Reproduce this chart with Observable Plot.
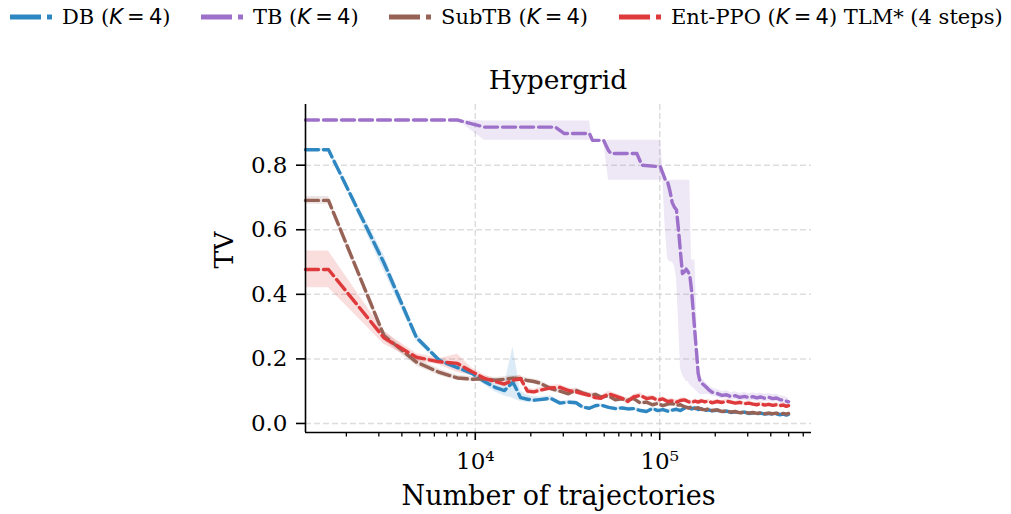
<!DOCTYPE html>
<html><head><meta charset="utf-8">
<script src="https://cdn.jsdelivr.net/npm/d3@7"></script>
<script src="https://cdn.jsdelivr.net/npm/@observablehq/plot@0.6"></script>
<style>
html,body{margin:0;padding:0;background:#fff;overflow:hidden;}
#wrap{position:relative;width:1011px;height:514px;font-family:"DejaVu Serif",serif;color:#000;}
#wrap > svg{position:absolute;left:0;top:0;}
.leg{position:absolute;top:4px;height:26px;display:flex;align-items:center;font-size:21px;white-space:nowrap;}
.leg svg{margin-right:10px;flex:none;}
.m{font-family:"DejaVu Sans",sans-serif;}
.title{position:absolute;left:0;width:1116px;text-align:center;top:65px;font-size:26.5px;line-height:30px;}
</style></head><body><div id="wrap"></div>
<script>
// ---- data ----
const seriesNames = ["DB (K = 4)", "TB (K = 4)", "SubTB (K = 4)", "Ent-PPO (K = 4) TLM* (4 steps)"];
const seriesColors = ["#2f87c2", "#9d70c9", "#976256", "#df3a3b"];

// shared logging steps (number of trajectories) for DB, SubTB, Ent-PPO
const steps = [
  0, 1600, 3200, 4800, 6400, 8000, 9600, 11200, 12800, 14400,
  16000, 17600, 19200, 20800, 22400, 25600, 28800, 32000, 35200, 38400,
  41600, 44800, 48000, 52800, 57600, 62400, 67200, 72000, 78400, 84800,
  91200, 97600, 104000, 110400, 116800, 123200, 129600, 136000, 142400, 148800,
  155200, 161600, 168000, 176000, 184000, 192000, 204800, 217600, 230400, 243200,
  256000, 272000, 288000, 304000, 320000, 336000, 352000, 371200, 390400, 409600,
  428800, 448000, 467200, 486400, 499200
];
const dbTV = [
  0.848, 0.848, 0.497, 0.266, 0.195, 0.173, 0.155, 0.130, 0.112, 0.102,
  0.128, 0.080, 0.075, 0.072, 0.074, 0.078, 0.063, 0.066, 0.064, 0.050,
  0.047, 0.055, 0.057, 0.050, 0.046, 0.048, 0.045, 0.046, 0.040, 0.037,
  0.046, 0.040, 0.043, 0.038, 0.041, 0.044, 0.040, 0.047, 0.050, 0.045,
  0.048, 0.043, 0.046, 0.040, 0.042, 0.039, 0.041, 0.036, 0.038, 0.034,
  0.036, 0.033, 0.035, 0.031, 0.033, 0.030, 0.032, 0.029, 0.031, 0.028,
  0.030, 0.027, 0.029, 0.026, 0.028
];
const dbLo = [
  0.844, 0.844, 0.472, 0.254, 0.187, 0.165, 0.147, 0.120, 0.098, 0.085,
  0.078, 0.068, 0.065, 0.064, 0.067, 0.070, 0.057, 0.060, 0.058, 0.044,
  0.042, 0.050, 0.052, 0.045, 0.041, 0.043, 0.040, 0.041, 0.035, 0.032,
  0.041, 0.035, 0.038, 0.033, 0.036, 0.039, 0.035, 0.042, 0.045, 0.040,
  0.044, 0.039, 0.042, 0.036, 0.038, 0.035, 0.037, 0.032, 0.034, 0.030,
  0.032, 0.029, 0.031, 0.027, 0.029, 0.026, 0.028, 0.025, 0.027, 0.024,
  0.026, 0.023, 0.025, 0.022, 0.024
];
const dbHi = [
  0.852, 0.852, 0.522, 0.278, 0.203, 0.181, 0.163, 0.140, 0.124, 0.120,
  0.237, 0.100, 0.087, 0.082, 0.082, 0.086, 0.069, 0.072, 0.070, 0.056,
  0.052, 0.060, 0.062, 0.055, 0.051, 0.053, 0.050, 0.051, 0.045, 0.042,
  0.051, 0.045, 0.048, 0.043, 0.046, 0.049, 0.045, 0.052, 0.055, 0.050,
  0.052, 0.047, 0.050, 0.044, 0.046, 0.043, 0.045, 0.040, 0.042, 0.038,
  0.040, 0.037, 0.039, 0.035, 0.037, 0.034, 0.036, 0.033, 0.035, 0.032,
  0.034, 0.031, 0.033, 0.030, 0.032
];
const sbTV = [
  0.691, 0.691, 0.272, 0.190, 0.158, 0.141, 0.137, 0.138, 0.134, 0.137,
  0.140, 0.139, 0.133, 0.130, 0.125, 0.108, 0.100, 0.092, 0.103, 0.094,
  0.088, 0.090, 0.082, 0.085, 0.073, 0.076, 0.072, 0.078, 0.063, 0.066,
  0.058, 0.062, 0.055, 0.060, 0.062, 0.056, 0.058, 0.052, 0.048, 0.050,
  0.046, 0.049, 0.044, 0.042, 0.045, 0.040, 0.042, 0.037, 0.039, 0.035,
  0.037, 0.033, 0.035, 0.032, 0.034, 0.031, 0.033, 0.030, 0.032, 0.030,
  0.032, 0.029, 0.031, 0.029, 0.031
];
const sbSpread = [
  0.012, 0.012, 0.015, 0.012, 0.010, 0.008, 0.008, 0.008, 0.008, 0.008,
  0.008, 0.008, 0.008, 0.008, 0.008, 0.008, 0.007, 0.007, 0.007, 0.007,
  0.006, 0.006, 0.006, 0.006, 0.006, 0.006, 0.006, 0.006, 0.006, 0.006,
  0.005, 0.005, 0.005, 0.005, 0.005, 0.005, 0.005, 0.005, 0.005, 0.005,
  0.005, 0.005, 0.005, 0.005, 0.005, 0.005, 0.005, 0.005, 0.005, 0.005,
  0.004, 0.004, 0.004, 0.004, 0.004, 0.004, 0.004, 0.004, 0.004, 0.004,
  0.004, 0.004, 0.004, 0.004, 0.004
];
const epTV = [
  0.477, 0.477, 0.265, 0.205, 0.191, 0.186, 0.160, 0.140, 0.130, 0.122,
  0.134, 0.139, 0.100, 0.098, 0.103, 0.110, 0.112, 0.102, 0.098, 0.092,
  0.087, 0.080, 0.078, 0.092, 0.085, 0.078, 0.068, 0.082, 0.087, 0.077,
  0.080, 0.072, 0.076, 0.068, 0.070, 0.066, 0.071, 0.073, 0.068, 0.064,
  0.069, 0.066, 0.070, 0.067, 0.069, 0.064, 0.068, 0.065, 0.069, 0.066,
  0.063, 0.065, 0.061, 0.063, 0.060, 0.058, 0.061, 0.057, 0.059, 0.056,
  0.058, 0.055, 0.057, 0.053, 0.055
];
const epSpread = [
  0.057, 0.057, 0.020, 0.012, 0.010, 0.028, 0.012, 0.010, 0.008, 0.008,
  0.010, 0.010, 0.010, 0.008, 0.008, 0.008, 0.008, 0.008, 0.008, 0.008,
  0.008, 0.008, 0.008, 0.008, 0.008, 0.008, 0.008, 0.008, 0.008, 0.008,
  0.007, 0.007, 0.007, 0.007, 0.007, 0.007, 0.007, 0.007, 0.007, 0.007,
  0.006, 0.006, 0.006, 0.006, 0.006, 0.006, 0.006, 0.006, 0.006, 0.006,
  0.006, 0.006, 0.006, 0.006, 0.006, 0.006, 0.006, 0.006, 0.006, 0.006,
  0.006, 0.006, 0.006, 0.006, 0.006
];
// TB has its own (step-like) sampling
const tbSteps = [
  0, 1600, 8000, 11200, 27200, 30400, 41600, 43200, 49600, 52800,
  54400, 75200, 80000, 100800, 104000, 107200, 110400, 113600, 116800, 120000,
  123200, 126400, 129600, 132800, 136000, 139200, 142400, 145600, 148800, 152000,
  155200, 158400, 161600, 164800, 168000, 176000, 184000, 192000, 204800, 217600,
  230400, 243200, 256000, 272000, 288000, 304000, 320000, 336000, 352000, 371200,
  390400, 409600, 428800, 448000, 467200, 486400, 499200
];
const tbTV = [
  0.940, 0.940, 0.940, 0.918, 0.918, 0.898, 0.898, 0.877, 0.877, 0.845,
  0.836, 0.836, 0.800, 0.795, 0.775, 0.755, 0.748, 0.720, 0.685, 0.670,
  0.662, 0.600, 0.530, 0.464, 0.470, 0.478, 0.470, 0.458, 0.412, 0.346,
  0.280, 0.220, 0.155, 0.134, 0.126, 0.116, 0.105, 0.097, 0.093, 0.087,
  0.089, 0.083, 0.086, 0.081, 0.084, 0.080, 0.083, 0.079, 0.082, 0.078,
  0.081, 0.077, 0.079, 0.074, 0.072, 0.069, 0.067
];
const tbLo = [
  0.940, 0.940, 0.940, 0.877, 0.877, 0.877, 0.877, 0.877, 0.877, 0.753,
  0.753, 0.753, 0.753, 0.753, 0.753, 0.600, 0.510, 0.500, 0.500, 0.490,
  0.450, 0.320, 0.170, 0.150, 0.140, 0.130, 0.130, 0.120, 0.115, 0.110,
  0.105, 0.100, 0.095, 0.090, 0.088, 0.090, 0.090, 0.085, 0.082, 0.076,
  0.077, 0.072, 0.074, 0.070, 0.072, 0.069, 0.071, 0.068, 0.070, 0.067,
  0.069, 0.066, 0.068, 0.063, 0.061, 0.058, 0.056
];
const tbHi = [
  0.940, 0.940, 0.940, 0.937, 0.937, 0.937, 0.937, 0.877, 0.877, 0.877,
  0.877, 0.877, 0.877, 0.877, 0.790, 0.755, 0.753, 0.753, 0.753, 0.753,
  0.753, 0.753, 0.753, 0.753, 0.753, 0.753, 0.753, 0.753, 0.506, 0.506,
  0.506, 0.350, 0.170, 0.150, 0.140, 0.130, 0.118, 0.110, 0.105, 0.099,
  0.101, 0.095, 0.098, 0.093, 0.096, 0.092, 0.095, 0.091, 0.094, 0.090,
  0.093, 0.089, 0.091, 0.086, 0.084, 0.081, 0.079
];
const yTicks = [0, 0.2, 0.4, 0.6, 0.8];
const xMajorTicks = [1e4, 1e5];
const xMinorTicks = [2000, 3000, 4000, 5000, 6000, 7000, 8000, 9000,
  20000, 30000, 40000, 50000, 60000, 70000, 80000, 90000,
  200000, 300000, 400000, 500000, 600000];
const xLabel = "Number of trajectories";
const yLabel = "TV";
const titleText = "Hypergrid";

// ---- build ----
const xDomain = [1201, 665000];
const yDomain = [-0.028, 0.988];
const clampX = x => Math.max(x, xDomain[0]); // step 0 is drawn at the left edge (log axis)
const withSpread = (xs, ys, sd) => xs.map((x, i) => ({x: clampX(x), y: ys[i], lo: ys[i] - sd[i], hi: ys[i] + sd[i]}));
const withBand = (xs, ys, lo, hi) => xs.map((x, i) => ({x: clampX(x), y: ys[i], lo: lo[i], hi: hi[i]}));
const series = [
  withBand(steps, dbTV, dbLo, dbHi),
  withBand(tbSteps, tbTV, tbLo, tbHi),
  withSpread(steps, sbTV, sbSpread),
  withSpread(steps, epTV, epSpread)
];
const sup = {"4": "\u2074", "5": "\u2075", "3": "\u00b3", "6": "\u2076"};
const lineDash = "13,5";

const marks = [
  Plot.gridY(yTicks, {stroke: "#cfcfcf", strokeOpacity: 0.7, strokeWidth: 1.5, strokeDasharray: "6,3"}),
  Plot.gridX(xMajorTicks, {stroke: "#cfcfcf", strokeOpacity: 0.7, strokeWidth: 1.5, strokeDasharray: "6,3"})
];
series.forEach((d, i) => marks.push(Plot.areaY(d, {x: "x", y1: "lo", y2: "hi", fill: seriesColors[i], fillOpacity: 0.17})));
series.forEach((d, i) => marks.push(Plot.line(d, {x: "x", y: "y", stroke: seriesColors[i], strokeWidth: 3.4, strokeDasharray: lineDash})));
marks.push(
  Plot.ruleX([xDomain[0]], {stroke: "#000", strokeWidth: 1.6}),
  Plot.ruleY([yDomain[0]], {stroke: "#000", strokeWidth: 1.6}),
  Plot.axisY(yTicks, {tickSize: 9, tickPadding: 9, tickFormat: d3.format(".1f"), label: null, strokeWidth: 1.6, fontSize: 23}),
  Plot.axisX(xMinorTicks, {tickSize: 4.5, tickFormat: () => "", label: null, strokeWidth: 1.3}),
  Plot.axisX(xMajorTicks, {tickSize: 8, tickPadding: 12, label: null, strokeWidth: 1.6, fontSize: 23,
    tickFormat: d => "10" + sup[String(Math.round(Math.log10(d)))]}),
  Plot.text([yLabel], {frameAnchor: "left", dx: -81, rotate: -90, fontSize: 26.5}),
  Plot.text([xLabel], {frameAnchor: "bottom", dy: 72, fontSize: 27})
);

const chart = Plot.plot({
  width: 1011, height: 514,
  marginLeft: 305, marginRight: 200, marginTop: 104, marginBottom: 82,
  style: {fontFamily: "'DejaVu Serif', serif", fontSize: "23px", color: "#000", background: "transparent", overflow: "visible"},
  x: {type: "log", domain: xDomain},
  y: {domain: yDomain},
  marks
});

const wrap = document.getElementById("wrap");
wrap.appendChild(chart);

// title
const t = document.createElement("div");
t.className = "title";
t.textContent = titleText;
wrap.appendChild(t);

// legend
const legendLeft = [10, 201, 389, 619];
seriesNames.forEach((name, i) => {
  const item = document.createElement("div");
  item.className = "leg";
  item.style.left = legendLeft[i] + "px";
  const svgNS = "http://www.w3.org/2000/svg";
  const s = document.createElementNS(svgNS, "svg");
  s.setAttribute("width", 42); s.setAttribute("height", 10);
  const ln = document.createElementNS(svgNS, "line");
  ln.setAttribute("x1", 0); ln.setAttribute("x2", 42); ln.setAttribute("y1", 5); ln.setAttribute("y2", 5);
  ln.setAttribute("stroke", seriesColors[i]); ln.setAttribute("stroke-width", 5);
  ln.setAttribute("stroke-dasharray", "31,6");
  s.appendChild(ln);
  item.appendChild(s);
  const span = document.createElement("span");
  const m = name.match(/^(.*?)\(K = 4\)(.*)$/);
  span.innerHTML = m[1] + "(<span class='m'><i>K</i>\u2009=\u20094</span>)" + m[2];
  item.appendChild(span);
  wrap.appendChild(item);
});
</script></body></html>
